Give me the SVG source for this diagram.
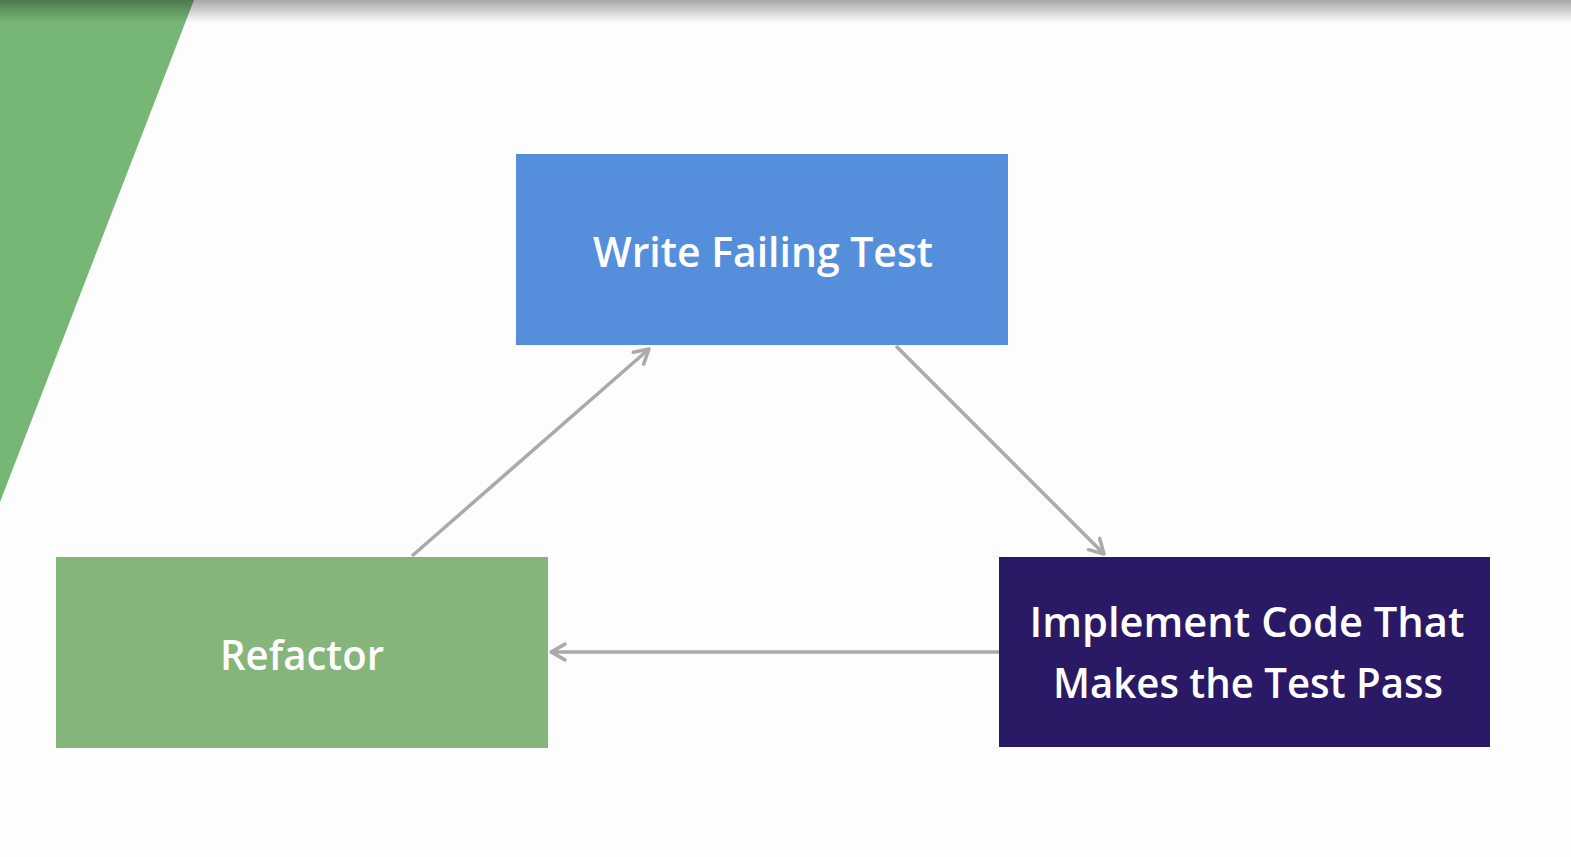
<svg xmlns="http://www.w3.org/2000/svg" width="1571" height="857" viewBox="0 0 1571 857">
<style>
.lbl{font-family:"Open Sans","Noto Sans","Liberation Sans",sans-serif;fill:#ffffff;text-anchor:middle;font-size:42px;font-weight:600}
.conn{stroke:#aaaaaa;stroke-width:3.5;fill:none;marker-end:url(#arr)}
</style>
<defs>
<marker id="arr" viewBox="0 0 12 12" refX="10" refY="6" markerWidth="6" markerHeight="6" markerUnits="strokeWidth" orient="auto">
<path d="M2,1.5 L10,6 L2,10.5" fill="none" stroke="#aaaaaa" stroke-width="2" stroke-linecap="round" stroke-linejoin="round"/>
</marker>
<linearGradient id="shade" x1="0" y1="0" x2="0" y2="1">
<stop offset="0" stop-color="#000" stop-opacity="0.34"/>
<stop offset="1" stop-color="#000" stop-opacity="0"/>
</linearGradient>
</defs>
<rect width="1571" height="857" fill="#fefdfe"/>
<polygon points="0,0 194,0 0,502" fill="#76b776"/>
<rect x="0" y="0" width="1571" height="23" fill="url(#shade)"/>
<g id="connectors">
<line class="conn" x1="412" y1="556" x2="649" y2="349"/>
<line class="conn" x1="896" y1="346" x2="1104" y2="554"/>
<line class="conn" x1="999" y1="652" x2="551" y2="652"/>
</g>
<g id="write-failing-test">
<rect x="516" y="154" width="492" height="191" fill="#558fdc"/>
<text class="lbl" x="763" y="267" textLength="340" lengthAdjust="spacingAndGlyphs">Write Failing Test</text>
</g>
<g id="refactor">
<rect x="56" y="557" width="492" height="191" fill="#86b57c"/>
<text class="lbl" x="302" y="670" textLength="164" lengthAdjust="spacingAndGlyphs">Refactor</text>
</g>
<g id="implement-code">
<rect x="999" y="557" width="491" height="190" fill="#2a1a66"/>
<text class="lbl" x="1247" y="637" textLength="435" lengthAdjust="spacingAndGlyphs">Implement Code That</text>
<text class="lbl" x="1248" y="698" textLength="390" lengthAdjust="spacingAndGlyphs">Makes the Test Pass</text>
</g>
</svg>
